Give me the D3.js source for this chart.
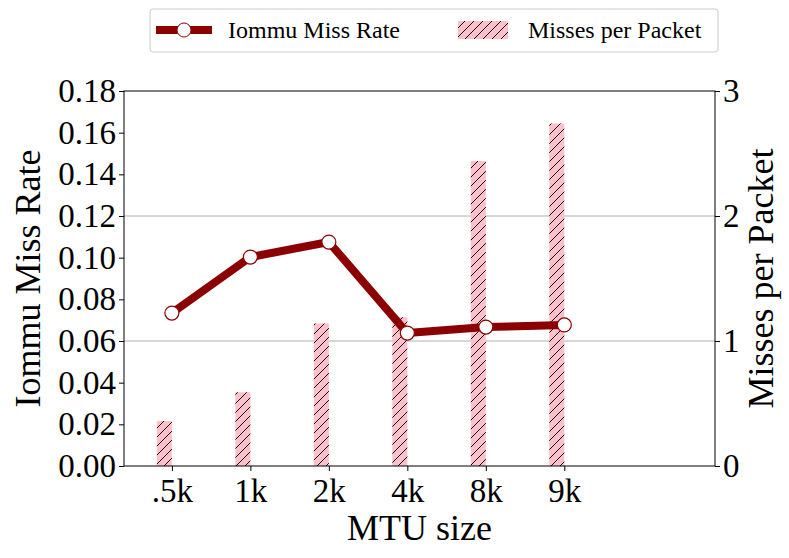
<!DOCTYPE html>
<html>
<body style="margin:0;background:#fff">
<svg id="c" width="789" height="558"></svg>
<script src="https://cdn.jsdelivr.net/npm/d3@7"></script>
<script>
const categories = ['.5k', '1k', '2k', '4k', '8k', '9k'];
const missRate = [0.0734, 0.1003, 0.1075, 0.0638, 0.0667, 0.0677];
const missesPerPacket = [0.36, 0.59, 1.14, 1.19, 2.44, 2.74];
const leftTicks = [0, 0.02, 0.04, 0.06, 0.08, 0.10, 0.12, 0.14, 0.16, 0.18];
const rightTicks = [0, 1, 2, 3];

const L = 124, R = 715, T = 91, B = 466;
const font = 'Liberation Serif, Times New Roman, serif';
const svg = d3.select('#c');

const x = d3.scaleLinear().domain([-0.61, 6.92]).range([L, R]);
const yL = d3.scaleLinear().domain([0, 0.18]).range([B, T]);
const yR = d3.scaleLinear().domain([0, 3]).range([B, T]);

const defs = svg.append('defs');
const pat = defs.append('pattern').attr('id', 'hatch').attr('patternUnits', 'userSpaceOnUse')
  .attr('width', 9).attr('height', 9);
pat.append('rect').attr('width', 9).attr('height', 9).attr('fill', 'pink');
pat.append('path').attr('d', 'M-1,10 L10,-1 M-3,3 L3,-3 M6,12 L12,6').attr('stroke', '#000').attr('stroke-width', 1);

// grid on right axis
svg.append('g').selectAll('line').data([1, 2]).join('line')
  .attr('x1', L).attr('x2', R).attr('y1', d => yR(d)).attr('y2', d => yR(d))
  .attr('stroke', '#b0b0b0').attr('stroke-width', 1);

// bars
svg.append('g').selectAll('rect').data(missesPerPacket).join('rect')
  .attr('x', (d, i) => x(i) - 15).attr('width', 15)
  .attr('y', d => yR(d)).attr('height', d => B - yR(d))
  .attr('fill', 'url(#hatch)');

// line
svg.append('path').datum(missRate)
  .attr('d', d3.line().x((d, i) => x(i)).y(d => yL(d)))
  .attr('fill', 'none').attr('stroke', '#8b0000').attr('stroke-width', 8).attr('stroke-linejoin', 'round');
svg.append('g').selectAll('circle').data(missRate).join('circle')
  .attr('cx', (d, i) => x(i)).attr('cy', d => yL(d)).attr('r', 7)
  .attr('fill', '#fff').attr('stroke', '#8b0000').attr('stroke-width', 1.2);

// frame
svg.append('rect').attr('x', L).attr('y', T).attr('width', R - L).attr('height', B - T)
  .attr('fill', 'none').attr('stroke', '#000').attr('stroke-width', 1);

const ax = svg.append('g').attr('transform', `translate(0,${B})`)
  .call(d3.axisBottom(x).tickValues(d3.range(categories.length)).tickFormat(i => categories[i]).tickSize(5));
const ayl = svg.append('g').attr('transform', `translate(${L},0)`)
  .call(d3.axisLeft(yL).tickValues(leftTicks).tickFormat(d3.format('.2f')).tickSize(5));
const ayr = svg.append('g').attr('transform', `translate(${R},0)`)
  .call(d3.axisRight(yR).tickValues(rightTicks).tickFormat(d3.format('d')).tickSize(5));
[ax, ayl, ayr].forEach(g => {
  g.select('.domain').remove();
  g.selectAll('text').attr('font-family', font).attr('font-size', 33).attr('fill', '#000');
});
ax.selectAll('text').attr('dy', '0.85em');

svg.append('text').attr('x', (L + R) / 2).attr('y', 540).attr('text-anchor', 'middle')
  .attr('font-family', font).attr('font-size', 36).text('MTU size');
svg.append('text').attr('transform', `translate(40,${(T + B) / 2}) rotate(-90)`).attr('text-anchor', 'middle')
  .attr('font-family', font).attr('font-size', 36).text('Iommu Miss Rate');
svg.append('text').attr('transform', `translate(773,${(T + B) / 2}) rotate(-90)`).attr('text-anchor', 'middle')
  .attr('font-family', font).attr('font-size', 36).text('Misses per Packet');

// legend
const lg = svg.append('g');
lg.append('rect').attr('x', 150).attr('y', 9).attr('width', 568).attr('height', 43).attr('rx', 3)
  .attr('fill', '#fff').attr('stroke', '#ccc');
lg.append('line').attr('x1', 156).attr('x2', 212).attr('y1', 30).attr('y2', 30)
  .attr('stroke', '#8b0000').attr('stroke-width', 8);
lg.append('circle').attr('cx', 184).attr('cy', 30).attr('r', 7).attr('fill', '#fff').attr('stroke', '#8b0000');
lg.append('text').attr('x', 228).attr('y', 38).attr('font-family', font).attr('font-size', 24).text('Iommu Miss Rate');
lg.append('rect').attr('x', 458).attr('y', 21).attr('width', 50).attr('height', 18).attr('fill', 'url(#hatch)');
lg.append('text').attr('x', 528).attr('y', 38).attr('font-family', font).attr('font-size', 24).text('Misses per Packet');
</script>
</body>
</html>
